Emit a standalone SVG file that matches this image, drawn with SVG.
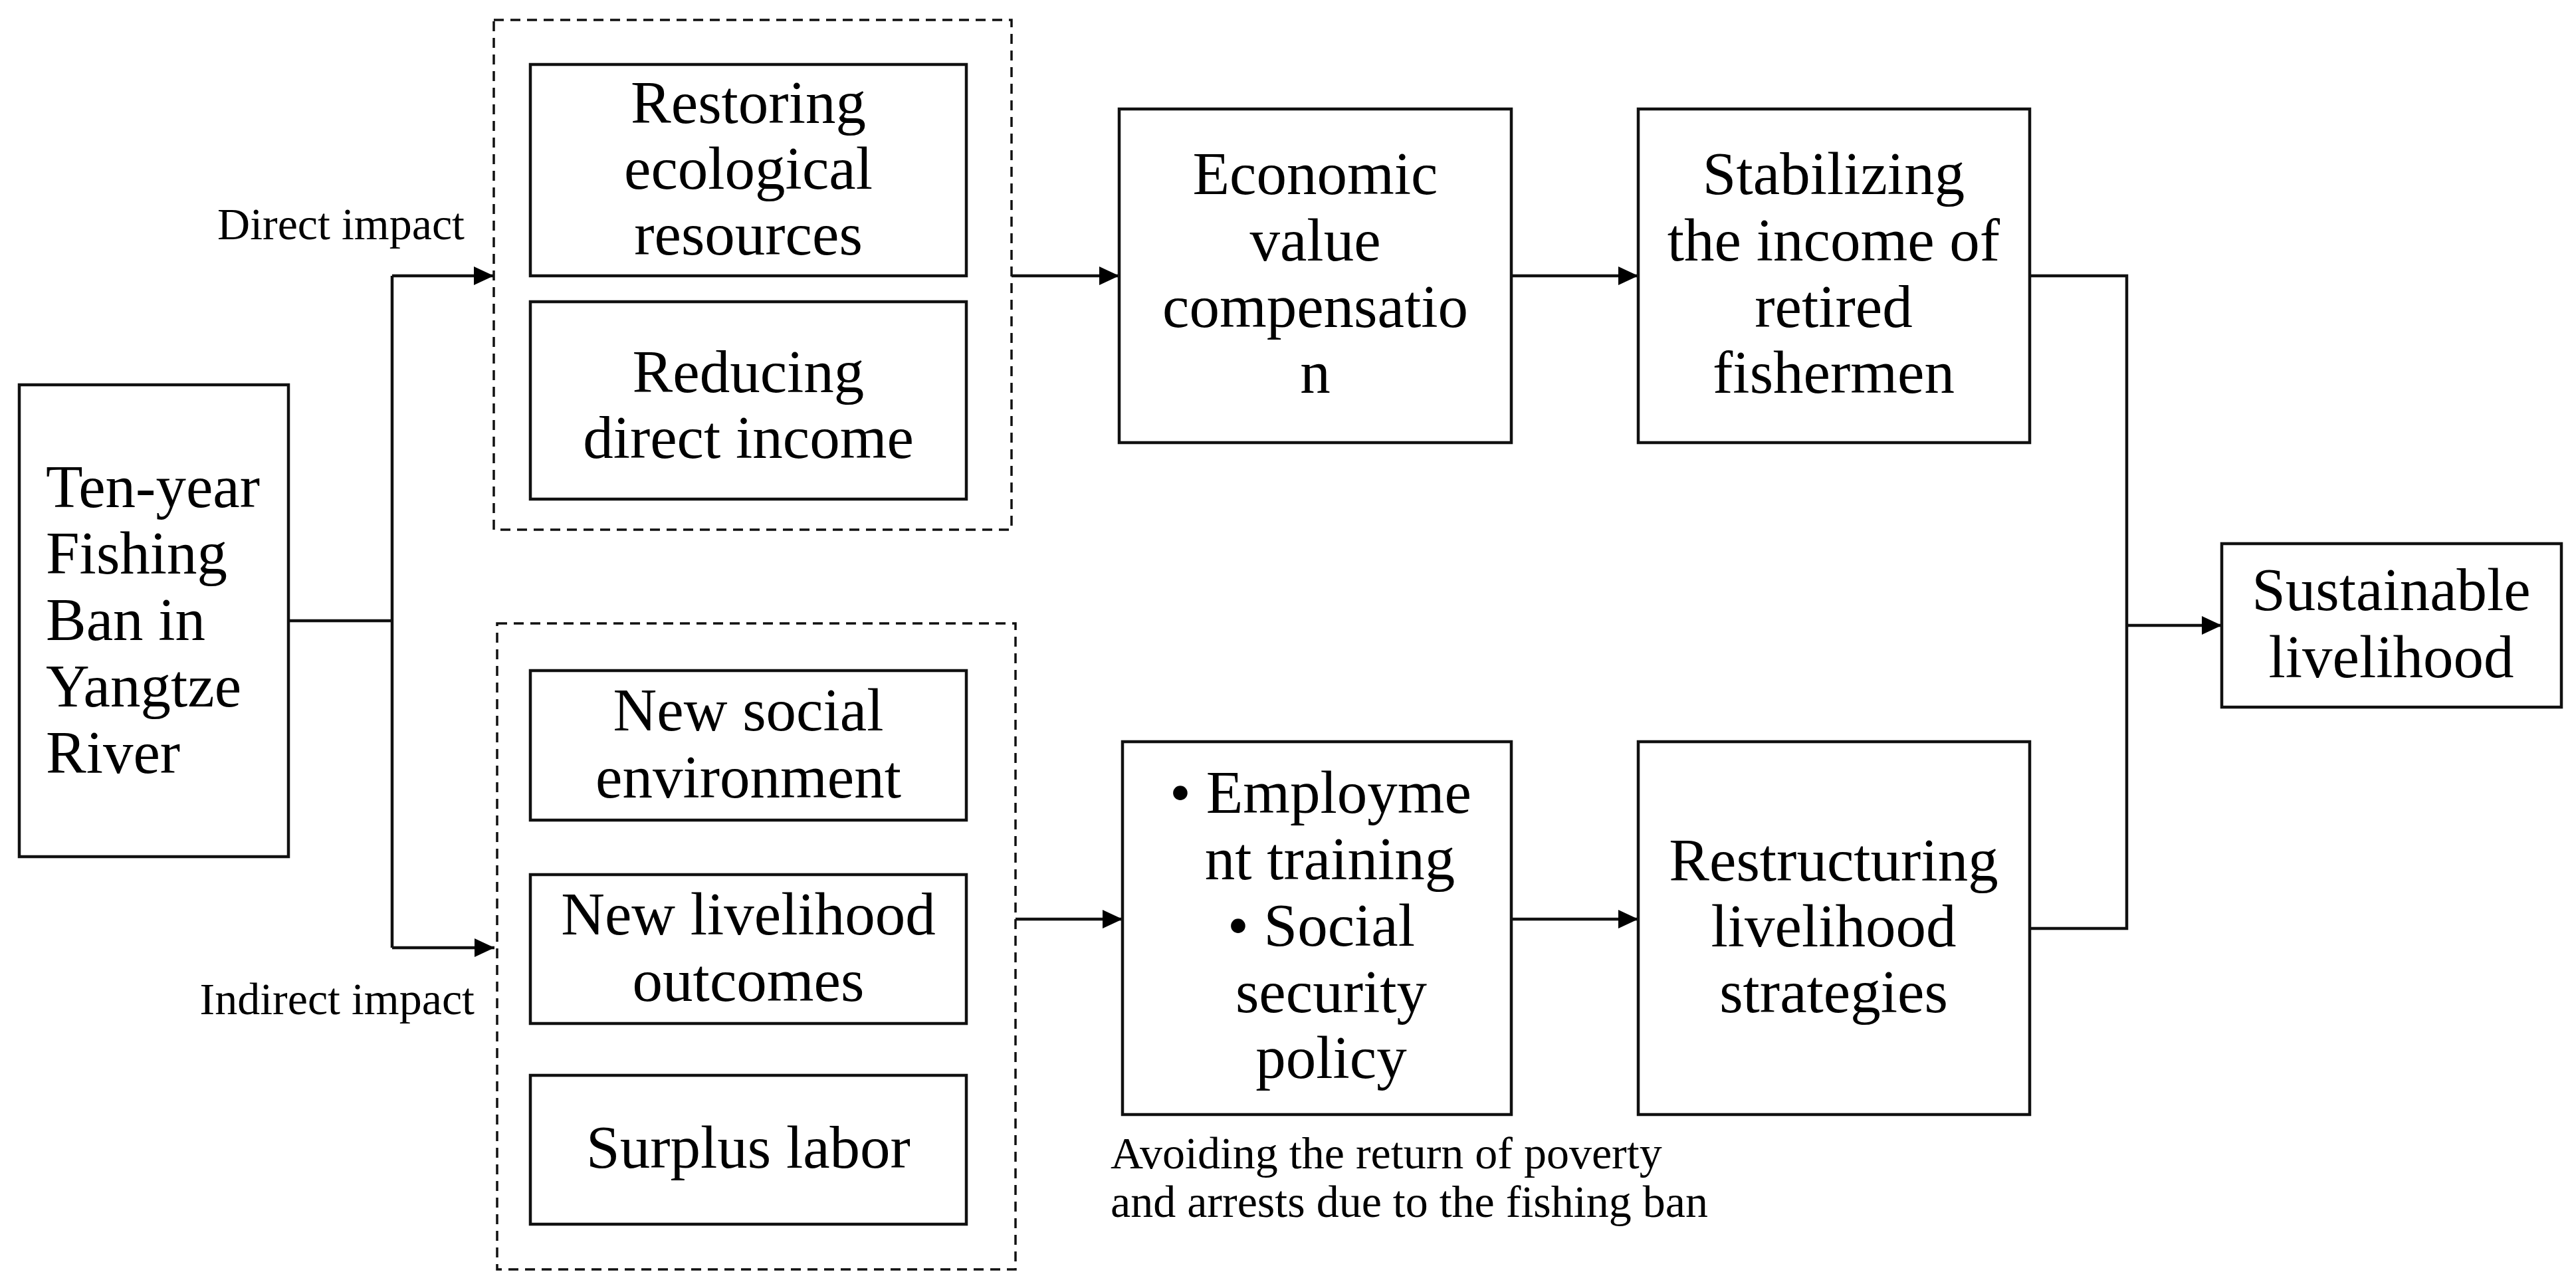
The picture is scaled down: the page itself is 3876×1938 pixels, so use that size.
<svg xmlns="http://www.w3.org/2000/svg" width="3876" height="1938" viewBox="0 0 3876 1938">
<defs>
<style>
.box{fill:#fff;stroke:#111;stroke-width:4.5}
.dash{fill:none;stroke:#111;stroke-width:3.5;stroke-dasharray:15 10}
.ln{fill:none;stroke:#111;stroke-width:4.5}
.t{font-family:"Liberation Serif","DejaVu Serif",serif;font-size:91px;fill:#000;text-anchor:middle}
.tl{font-family:"Liberation Serif","DejaVu Serif",serif;font-size:91px;fill:#000}
.lab{font-family:"Liberation Serif","DejaVu Serif",serif;font-size:68px;fill:#000}
</style>
<marker id="arr" markerUnits="userSpaceOnUse" markerWidth="32" markerHeight="30" refX="30" refY="14" orient="auto">
<path d="M0,0 L30,14 L0,28 z" fill="#000"/>
</marker>
</defs>
<rect width="3876" height="1938" fill="#fff"/>

<g id="connectors">
<polyline class="ln" points="434,934 590,934"/>
<polyline class="ln" points="590,415 590,1426"/>
<polyline class="ln" points="590,415 743,415" marker-end="url(#arr)"/>
<polyline class="ln" points="590,1426 744,1426" marker-end="url(#arr)"/>
<polyline class="ln" points="1522,415 1684,415" marker-end="url(#arr)"/>
<polyline class="ln" points="2274,415 2465,415" marker-end="url(#arr)"/>
<polyline class="ln" points="1528,1383 1689,1383" marker-end="url(#arr)"/>
<polyline class="ln" points="2274,1383 2465,1383" marker-end="url(#arr)"/>
<polyline class="ln" points="3054,415 3200,415 3200,1397 3054,1397"/>
<polyline class="ln" points="3200,941 3343,941" marker-end="url(#arr)"/>
</g>

<g id="label-direct"><text class="lab" x="699" y="360" text-anchor="end">Direct impact</text></g>
<g id="label-indirect"><text class="lab" x="714" y="1526" text-anchor="end">Indirect impact</text></g>
<g id="label-avoid"><text class="lab" x="1671" y="1758">Avoiding the return of poverty</text><text class="lab" x="1671" y="1831">and arrests due to the fishing ban</text></g>

<g id="node-ban">
<rect class="box" x="29" y="579" width="405" height="710"/>
<text class="tl" x="69" y="763">Ten-year</text>
<text class="tl" x="69" y="863">Fishing</text>
<text class="tl" x="69" y="963">Ban in</text>
<text class="tl" x="69" y="1063">Yangtze</text>
<text class="tl" x="69" y="1163">River</text>
</g>

<g id="group-direct"><rect class="dash" x="743" y="30" width="779" height="767"/></g>
<g id="node-restoring">
<rect class="box" x="798" y="97" width="656" height="318"/>
<text class="t" x="1126" y="185">Restoring</text>
<text class="t" x="1126" y="284">ecological</text>
<text class="t" x="1126" y="383">resources</text>
</g>
<g id="node-reducing">
<rect class="box" x="798" y="454" width="656" height="297"/>
<text class="t" x="1126" y="590">Reducing</text>
<text class="t" x="1126" y="689">direct income</text>
</g>

<g id="group-indirect"><rect class="dash" x="748" y="938" width="780" height="972"/></g>
<g id="node-social">
<rect class="box" x="798" y="1009" width="656" height="225"/>
<text class="t" x="1126" y="1099">New social</text>
<text class="t" x="1126" y="1200">environment</text>
</g>
<g id="node-outcomes">
<rect class="box" x="798" y="1316" width="656" height="224"/>
<text class="t" x="1126" y="1406">New livelihood</text>
<text class="t" x="1126" y="1506">outcomes</text>
</g>
<g id="node-surplus">
<rect class="box" x="798" y="1618" width="656" height="224"/>
<text class="t" x="1126" y="1757">Surplus labor</text>
</g>

<g id="node-economic">
<rect class="box" x="1684" y="164" width="590" height="502"/>
<text class="t" x="1979" y="292">Economic</text>
<text class="t" x="1979" y="392">value</text>
<text class="t" x="1979" y="492">compensatio</text>
<text class="t" x="1979" y="591">n</text>
</g>
<g id="node-stabilizing">
<rect class="box" x="2465" y="164" width="589" height="502"/>
<text class="t" x="2759" y="292">Stabilizing</text>
<text class="t" x="2759" y="392">the income of</text>
<text class="t" x="2759" y="492">retired</text>
<text class="t" x="2759" y="591">fishermen</text>
</g>
<g id="node-employment">
<rect class="box" x="1689" y="1116" width="585" height="561"/>
<text class="t" x="1987" y="1223">• Employme</text>
<text class="t" x="2001" y="1323">nt training</text>
<text class="t" x="1988" y="1423">• Social</text>
<text class="t" x="2003" y="1523">security</text>
<text class="t" x="2003" y="1622">policy</text>
</g>
<g id="node-restructuring">
<rect class="box" x="2465" y="1116" width="589" height="561"/>
<text class="t" x="2759" y="1325">Restructuring</text>
<text class="t" x="2759" y="1424">livelihood</text>
<text class="t" x="2759" y="1523">strategies</text>
</g>
<g id="node-sustainable">
<rect class="box" x="3343" y="818" width="511" height="246"/>
<text class="t" x="3598" y="918">Sustainable</text>
<text class="t" x="3598" y="1019">livelihood</text>
</g>
</svg>
